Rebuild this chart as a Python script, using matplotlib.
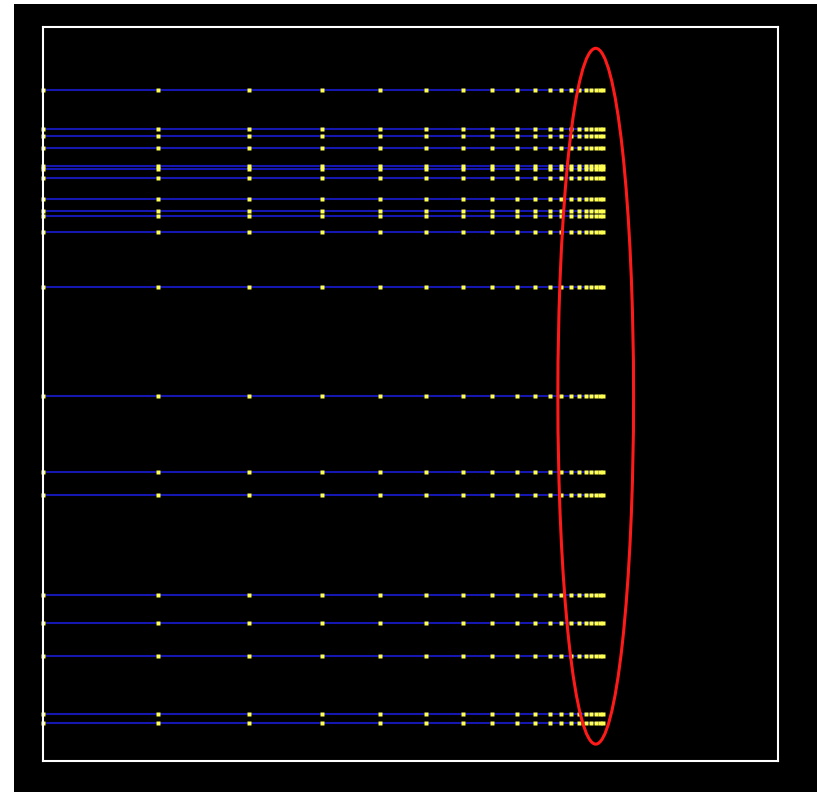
import matplotlib
matplotlib.use("Agg")
import matplotlib.pyplot as plt
from matplotlib.patches import Ellipse, Rectangle

# Heights of the horizontal trajectories (axis units, 0 = bottom, 1 = top)
line_levels = [0.914, 0.861, 0.852, 0.835, 0.811, 0.807, 0.794, 0.766,
               0.749, 0.743, 0.721, 0.646, 0.497, 0.394, 0.362, 0.226,
               0.188, 0.143, 0.064, 0.052]

# Sample positions along each trajectory, shrinking toward the limit at 1.0
step_positions = [0.0, 0.2065, 0.370, 0.501, 0.605, 0.688, 0.754, 0.806,
                  0.851, 0.884, 0.911, 0.930, 0.948, 0.963, 0.975, 0.985,
                  0.993, 1.0, 1.006]

W, H = 817, 792
fig = plt.figure(figsize=(W / 100, H / 100), dpi=100, facecolor="white")
# black canvas with a thin white margin on the left and top
fig.patches.append(Rectangle((14 / W, 0), 1 - 14 / W, 1 - 4 / H,
                             transform=fig.transFigure, facecolor="black",
                             edgecolor="none", zorder=-10))

ax = fig.add_axes([43 / W, 31 / H, 735 / W, 734 / H])
ax.set_zorder(1)
ax.set_facecolor("black")
ax.set_xlim(0, 1.32)
ax.set_ylim(0, 1)
ax.set_xticks([])
ax.set_yticks([])
for s in ax.spines.values():
    s.set_color("white")
    s.set_linewidth(1.5)
    s.set_zorder(5)

for level in line_levels:
    ys = [level] * len(step_positions)
    ax.plot(step_positions, ys, color="#1616b0", lw=1.5, zorder=2,
            solid_capstyle="butt")
    ax.plot(step_positions, ys, linestyle="none", marker="s",
            markersize=2.6, markerfacecolor="#ffff50",
            markeredgecolor="none", zorder=3, clip_on=False)

# highlight around the converging ends
ax.add_patch(Ellipse((0.752, 0.497), 0.103, 0.948, transform=ax.transAxes,
                     fill=False, edgecolor="#ff1a1a", lw=2.2, zorder=6))

fig.savefig("out.png", dpi=100, facecolor=fig.get_facecolor())
